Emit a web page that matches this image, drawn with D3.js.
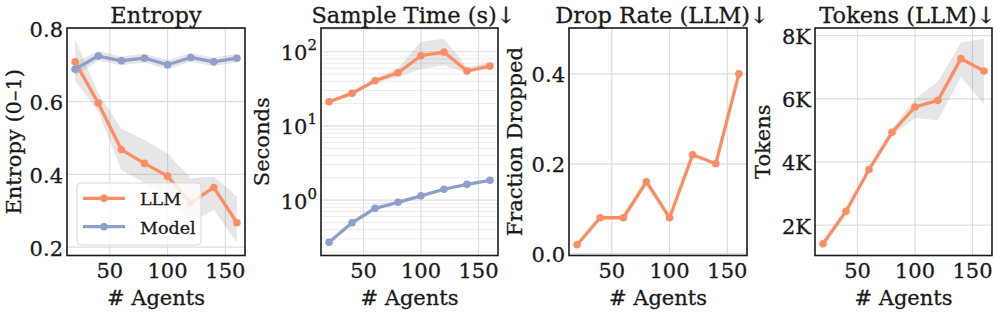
<!DOCTYPE html>
<html><head><meta charset="utf-8">
<script src="https://cdn.jsdelivr.net/npm/d3@7"></script>
<style>
body{margin:0;background:#fff}
text{font-family:"DejaVu Serif",serif;fill:#1a1a1a;stroke:#1a1a1a;stroke-width:0.3px}
</style>
</head><body>
<svg id="c" width="997" height="312"></svg>
<script>
// ---------- data ----------
const agents = [20, 40, 60, 80, 100, 120, 140, 160];
const xTicks = [50, 100, 150];

const entropyLLM     = [0.709, 0.596, 0.468, 0.430, 0.395, 0.321, 0.364, 0.267];
const entropyLLMLo   = [0.657, 0.572, 0.412, 0.376, 0.339, 0.267, 0.303, 0.212];
const entropyLLMHi   = [0.771, 0.624, 0.526, 0.494, 0.457, 0.389, 0.394, 0.339];
const entropyModel   = [0.689, 0.725, 0.712, 0.719, 0.701, 0.721, 0.709, 0.719];
const entropyModelLo = [0.671, 0.711, 0.700, 0.707, 0.688, 0.709, 0.697, 0.707];
const entropyModelHi = [0.707, 0.739, 0.724, 0.731, 0.714, 0.733, 0.721, 0.731];
const entropyTicks   = [0.2, 0.4, 0.6, 0.8];

const timeLLM     = [21.2, 27.5, 40.6, 52.1, 88.4, 99, 55, 64];
const timeLLMLo   = [20.2, 26.0, 37.5, 46, 58.5, 66, 52, 58];
const timeLLMHi   = [22.3, 29.0, 44.0, 59.7, 136, 151, 61.6, 72];
const timeModel   = [0.27, 0.495, 0.775, 0.934, 1.14, 1.40, 1.63, 1.85];
const timeModelLo = [0.26, 0.475, 0.745, 0.900, 1.10, 1.35, 1.57, 1.79];
const timeModelHi = [0.28, 0.515, 0.805, 0.968, 1.18, 1.45, 1.69, 1.91];
const timeTicks   = [1, 10, 100];
const timeTickExp = ["0", "1", "2"];

const dropLLM   = [0.02, 0.08, 0.08, 0.16, 0.08, 0.22, 0.20, 0.40];
const dropTicks = [0.0, 0.2, 0.4];

const tokensLLM   = [1410, 2440, 3760, 4940, 5740, 5950, 7270, 6880];
const tokensLLMLo = [1360, 2380, 3700, 4840, 5390, 5320, 6690, 5830];
const tokensLLMHi = [1460, 2500, 3820, 5040, 6000, 6550, 7790, 7900];
const tokensTicks = [2000, 4000, 6000, 8000];
const tokensTickLabels = ["2K", "4K", "6K", "8K"];

const seriesNames = ["LLM", "Model"];
const colors = {LLM: "#fc8d62", Model: "#8da0cb"};

// ---------- drawing ----------
const svg = d3.select("#c");
const TOP = 28, BOTTOM = 255.5;
const FS = 21, TFS = 22.5;

function panel(cfg) {
  const g = svg.append("g");
  const x = d3.scaleLinear().domain([13, 167]).range([cfg.x0, cfg.x1]);
  const y = (cfg.log ? d3.scaleLog() : d3.scaleLinear()).domain(cfg.yDomain).range([BOTTOM, TOP]);

  const grid = g.append("g");
  if (cfg.minor) {
    grid.selectAll("line.mi").data(cfg.minor).join("line")
      .attr("x1", cfg.x0).attr("x2", cfg.x1)
      .attr("y1", d => y(d)).attr("y2", d => y(d))
      .attr("stroke", "#e6e6e6").attr("stroke-width", 0.8);
  }
  grid.selectAll("line.gy").data(cfg.yTicks).join("line")
    .attr("x1", cfg.x0).attr("x2", cfg.x1)
    .attr("y1", d => y(d)).attr("y2", d => y(d))
    .attr("stroke", "#dedede").attr("stroke-width", 1.2);
  grid.selectAll("line.gx").data(xTicks).join("line")
    .attr("x1", d => x(d)).attr("x2", d => x(d))
    .attr("y1", TOP).attr("y2", BOTTOM)
    .attr("stroke", "#dedede").attr("stroke-width", 1.2);

  const clip = "clip" + cfg.id;
  svg.append("clipPath").attr("id", clip).append("rect")
    .attr("x", cfg.x0).attr("y", TOP).attr("width", cfg.x1 - cfg.x0).attr("height", BOTTOM - TOP);
  const plot = g.append("g").attr("clip-path", `url(#${clip})`);

  cfg.series.forEach(s => {
    if (!s.lo) return;
    const area = d3.area().x((d, i) => x(agents[i])).y0((d, i) => y(s.lo[i])).y1((d, i) => y(s.hi[i]));
    plot.append("path").datum(s.values).attr("d", area)
      .attr("fill", "#808080").attr("fill-opacity", 0.2).attr("stroke", "none");
  });
  cfg.series.forEach(s => {
    const line = d3.line().x((d, i) => x(agents[i])).y(d => y(d));
    plot.append("path").datum(s.values).attr("d", line)
      .attr("fill", "none").attr("stroke", colors[s.name]).attr("stroke-width", 3.3)
      .attr("stroke-linejoin", "round");
    plot.selectAll(null).data(s.values).join("circle")
      .attr("cx", (d, i) => x(agents[i])).attr("cy", d => y(d)).attr("r", 3.8)
      .attr("fill", colors[s.name]);
  });

  g.append("rect").attr("x", cfg.x0).attr("y", TOP)
    .attr("width", cfg.x1 - cfg.x0).attr("height", BOTTOM - TOP)
    .attr("fill", "none").attr("stroke", "#1a1a1a").attr("stroke-width", 1.6);

  g.selectAll("text.xt").data(xTicks).join("text")
    .attr("x", d => x(d)).attr("y", 278).attr("text-anchor", "middle")
    .attr("font-size", FS).text(d => d);
  const yt = g.selectAll("text.yt").data(cfg.yTicks).join("text")
    .attr("x", cfg.x0 - 4).attr("y", d => y(d) + 8.5).attr("text-anchor", "end")
    .attr("font-size", FS);
  if (cfg.log) {
    yt.each(function(d, i) {
      const t = d3.select(this);
      t.append("tspan").text("10");
      t.append("tspan").attr("dy", -10).attr("font-size", 15).text(cfg.yTickExp[i]);
    });
  } else {
    yt.text((d, i) => cfg.yLabels[i]);
  }

  g.append("text").attr("x", (cfg.x0 + cfg.x1) / 2).attr("y", 305)
    .attr("text-anchor", "middle").attr("font-size", FS).text("# Agents");
  g.append("text").attr("transform", `translate(${cfg.ylx},${(TOP + BOTTOM) / 2}) rotate(-90)`)
    .attr("text-anchor", "middle").attr("dominant-baseline", "central")
    .attr("font-size", FS).text(cfg.ylabel);
  g.append("text").attr("x", (cfg.x0 + cfg.x1) / 2 + (cfg.arrow ? 4 : 0)).attr("y", 23)
    .attr("text-anchor", "middle").attr("font-size", TFS).text(cfg.title);
  return {g, x, y};
}

panel({
  id: 1, x0: 67, x1: 245, yDomain: [0.177, 0.802], yTicks: entropyTicks,
  yLabels: entropyTicks.map(d => d.toFixed(1)), ylabel: "Entropy (0\u20131)", ylx: 14,
  title: "Entropy",
  series: [
    {name: "LLM", values: entropyLLM, lo: entropyLLMLo, hi: entropyLLMHi},
    {name: "Model", values: entropyModel, lo: entropyModelLo, hi: entropyModelHi}
  ]
});

const minorLog = [];
[0.1, 1, 10, 100].forEach(b => { for (let k = 2; k <= 9; k++) { const v = b * k; if (v > 0.179 && v < 209) minorLog.push(v); } });

panel({
  id: 2, x0: 321, x1: 498, log: true, yDomain: [0.179, 209], yTicks: timeTicks, yTickExp: timeTickExp,
  minor: minorLog, ylabel: "Seconds", ylx: 262, title: "Sample Time (s)\u2193", arrow: true,
  series: [
    {name: "LLM", values: timeLLM, lo: timeLLMLo, hi: timeLLMHi},
    {name: "Model", values: timeModel, lo: timeModelLo, hi: timeModelHi}
  ]
});

panel({
  id: 3, x0: 569, x1: 747, yDomain: [-0.004, 0.502], yTicks: dropTicks,
  yLabels: dropTicks.map(d => d.toFixed(1)), ylabel: "Fraction Dropped", ylx: 515,
  title: "Drop Rate (LLM)\u2193", arrow: true,
  series: [{name: "LLM", values: dropLLM}]
});

panel({
  id: 4, x0: 815, x1: 992, yDomain: [1040, 8240], yTicks: tokensTicks,
  yLabels: tokensTickLabels, ylabel: "Tokens", ylx: 763,
  title: "Tokens (LLM)\u2193", arrow: true,
  series: [{name: "LLM", values: tokensLLM, lo: tokensLLMLo, hi: tokensLLMHi}]
});

const lg = svg.append("g");
lg.append("rect").attr("x", 77).attr("y", 183).attr("width", 124).attr("height", 62).attr("rx", 4)
  .attr("fill", "#fff").attr("fill-opacity", 0.8).attr("stroke", "#d8d8d8").attr("stroke-width", 1);
seriesNames.forEach((n, i) => {
  const yy = 198.3 + i * 28.4;
  lg.append("line").attr("x1", 83).attr("x2", 125).attr("y1", yy).attr("y2", yy)
    .attr("stroke", colors[n]).attr("stroke-width", 3.3);
  lg.append("circle").attr("cx", 104).attr("cy", yy).attr("r", 3.8).attr("fill", colors[n]);
  lg.append("text").attr("x", 140).attr("y", yy + 1).attr("dominant-baseline", "central")
    .attr("font-size", 17.5).text(n);
});
</script>
</body></html>
